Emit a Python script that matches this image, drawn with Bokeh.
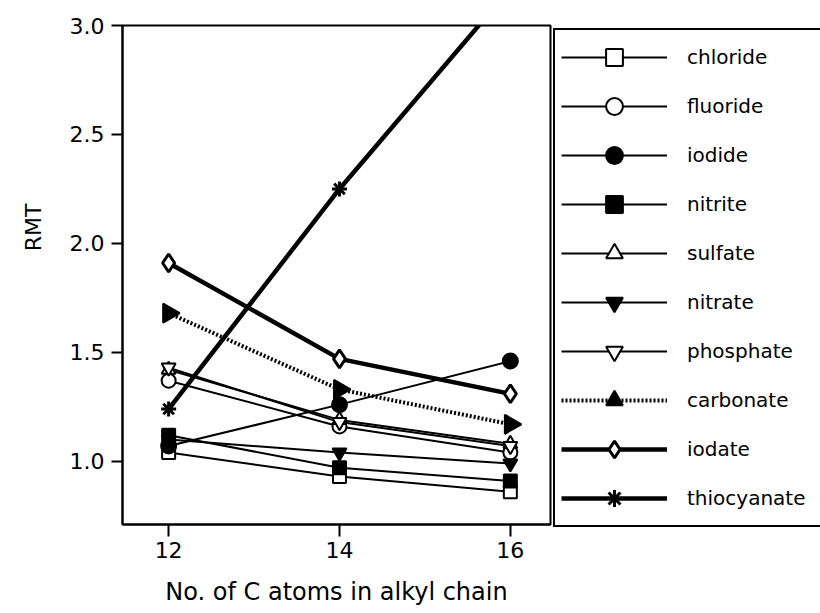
import numpy as np
from bokeh.plotting import figure
from bokeh.models import (Legend, LegendItem, FixedTicker, Range1d, Title,
                          ColumnDataSource, CustomJSTickFormatter)
from bokeh.embed import file_html
from bokeh.resources import INLINE

# ---- data ----
carbons = [12, 14, 16]
chloride = [1.04, 0.93, 0.86]
fluoride = [1.37, 1.16, 1.04]
iodide = [1.07, 1.26, 1.46]
nitrite = [1.12, 0.97, 0.91]
sulfate = [1.42, 1.19, 1.08]
nitrate = [1.10, 1.04, 0.99]
phosphate = [1.43, 1.18, 1.07]
carbonate = [1.68, 1.33, 1.17]
iodate = [1.91, 1.47, 1.31]
thiocyanate = [1.24, 2.25, 3.17]

x_ticks = [12, 14, 16]
y_ticks = [1.0, 1.5, 2.0, 2.5, 3.0]

FONT = "DejaVu Sans"

p = figure(frame_width=428, frame_height=499, output_backend="svg",
           toolbar_location=None,
           x_range=Range1d(11.46, 16.47), y_range=Range1d(0.71, 3.0),
           min_border_left=122, min_border_right=0, min_border_top=25,
           min_border_bottom=89)
p.background_fill_color = "white"
p.border_fill_color = "white"
p.outline_line_color = "black"
p.outline_line_width = 2
p.outline_line_alpha = 1
p.xgrid.visible = False
p.ygrid.visible = False

for ax in (p.xaxis[0], p.yaxis[0]):
    ax.axis_line_color = "black"
    ax.axis_line_width = 2
    ax.major_tick_line_width = 2
    ax.major_tick_in = 0
    ax.minor_tick_line_color = None
    ax.major_label_text_font = FONT
    ax.major_label_text_font_size = "22px"
    ax.major_label_text_color = "black"
    ax.axis_label_text_font = FONT
    ax.axis_label_text_font_size = "24px"
    ax.axis_label_text_font_style = "normal"
    ax.axis_label_text_color = "black"

p.xaxis.ticker = FixedTicker(ticks=x_ticks)
p.yaxis.ticker = FixedTicker(ticks=y_ticks)
p.yaxis.formatter = CustomJSTickFormatter(code="return tick.toFixed(1);")
p.xaxis.major_tick_out = 12
p.yaxis.major_tick_out = 11
p.xaxis.major_label_standoff = 5
p.yaxis.major_label_standoff = 7
p.xaxis.axis_label = "No. of C atoms in alkyl chain"
p.xaxis.axis_label_standoff = 17

ytitle = Title(text="RMT", align="right", vertical_align="top",
               offset=178, standoff=38,
               text_font=FONT, text_font_size="22px", text_font_style="normal",
               text_color="black")
p.add_layout(ytitle, "left")

series = [
    ("chloride", chloride, "square", "white", 2, None, 13, 0),
    ("fluoride", fluoride, "circle", "white", 2, None, 14, 0),
    ("iodide", iodide, "circle", "black", 2, None, 15, 0),
    ("nitrite", nitrite, "square", "black", 2, None, 13, 0),
    ("sulfate", sulfate, "triangle", "white", 2, None, 14, 0),
    ("nitrate", nitrate, "inverted_triangle", "black", 2, None, 14, 0),
    ("phosphate", phosphate, "inverted_triangle", "white", 2, None, 14, 0),
    ("carbonate", carbonate, "triangle", "black", 4, "2 2", 19, -np.pi / 2),
    ("iodate", iodate, "diamond", "white", 4.5, None, 18, 0),
    ("thiocyanate", thiocyanate, "asterisk", "black", 4.5, None, 15, 0),
]

items = []
for name, vals, marker, fill, lw, dash, size, ang in series:
    src = ColumnDataSource(dict(x=carbons, y=vals, ang=[ang] * len(carbons)))
    line_kw = dict(line_color="black", line_width=lw)
    if dash:
        line_kw["line_dash"] = dash
    r1 = p.line("x", "y", source=src, **line_kw)
    r2 = p.scatter("x", "y", source=src, marker=marker, size=size, fill_color=fill,
                   line_color="black",
                   line_width=3 if marker in ("asterisk", "diamond") else 2,
                   angle="ang")
    items.append(LegendItem(label=name, renderers=[r1, r2], index=0))

legend = Legend(items=items, location="top_left",
                glyph_width=106, glyph_height=42, label_height=42,
                spacing=7, padding=6, margin=3, label_standoff=20,
                label_width=127,
                border_line_color="black", border_line_width=2,
                border_line_alpha=1,
                label_text_font=FONT, label_text_font_size="20px",
                label_text_color="black", background_fill_alpha=1)
p.add_layout(legend, "right")

open("out.html", "w").write(file_html(p, INLINE))
